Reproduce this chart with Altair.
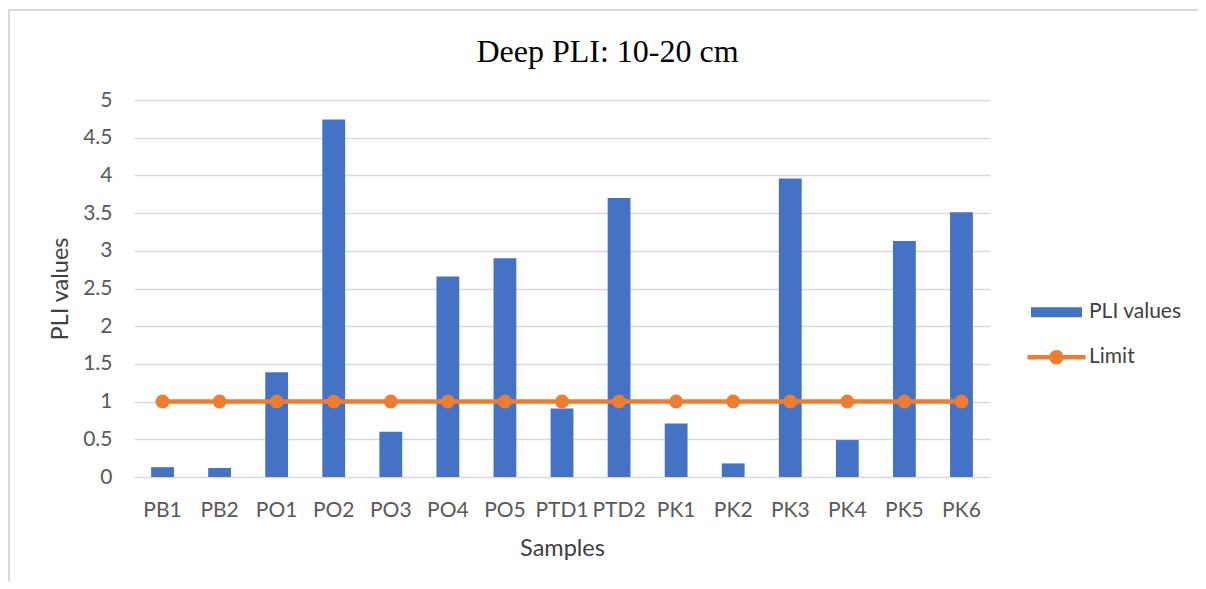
import altair as alt
import pandas as pd

# ---- data ----
samples = ["PB1", "PB2", "PO1", "PO2", "PO3", "PO4", "PO5", "PTD1", "PTD2",
           "PK1", "PK2", "PK3", "PK4", "PK5", "PK6"]
pli_values = [0.13, 0.12, 1.39, 4.74, 0.60, 2.66, 2.90, 0.91, 3.70,
              0.71, 0.18, 3.96, 0.49, 3.13, 3.51]
limit_values = [1, 1, 1, 1, 1, 1, 1, 1, 1, 1, 1, 1, 1, 1, 1]
series_names = ["PLI values", "Limit"]
y_ticks = [0, 0.5, 1, 1.5, 2, 2.5, 3, 3.5, 4, 4.5, 5]

df = pd.DataFrame({"Sample": samples, "PLI": pli_values, "Limit": limit_values})
legend_df = pd.DataFrame({"Series": series_names})
one_row = pd.DataFrame({"k": [0]})

BLUE = "#4472C4"
ORANGE = "#ED7D31"
GRID = "#D9D9D9"
LABEL = "#595959"
TITLE = "#404040"
FONT = "Lato"
LBL_SIZE = 21
TTL_SIZE = 23.5

bar_shape = "M-2.55,-0.5H2.55V0.5H-2.55Z"
line_shape = ("M-2.9,-0.22H2.9V0.22H-2.9Z "
              "M0.72,0A0.72,0.72,0,1,1,-0.72,0A0.72,0.72,0,1,1,0.72,0Z")

x_axis = alt.Axis(title="Samples", labelAngle=0, labelFont=FONT, labelFontSize=LBL_SIZE,
                  labelColor=LABEL, labelPadding=22.5, ticks=False, tickSize=0,
                  domain=False, grid=False, labelOverlap=False,
                  titleFont=FONT, titleFontSize=TTL_SIZE, titleFontWeight="normal",
                  titleColor=TITLE, titleY=78, titleBaseline="alphabetic")
x_enc = alt.X("Sample:N", sort=samples,
              scale=alt.Scale(paddingInner=0.6, paddingOuter=0.3), axis=x_axis)

y_scale = alt.Scale(domain=[0, 5], nice=False)
y_axis = alt.Axis(title="PLI values", values=y_ticks, format="~g",
                  labelFont=FONT, labelFontSize=LBL_SIZE, labelColor=LABEL,
                  labelPadding=22, ticks=False, tickSize=0, domain=False,
                  grid=True, gridColor=GRID, gridWidth=1.4, labelFlush=False,
                  labelOverlap=False,
                  titleFont=FONT, titleFontSize=TTL_SIZE, titleFontWeight="normal",
                  titleColor=TITLE, titleX=-67, titleBaseline="alphabetic")

bars = alt.Chart(df).mark_bar(color=BLUE).encode(
    x=x_enc, y=alt.Y("PLI:Q", scale=y_scale, axis=y_axis))

line = alt.Chart(df).mark_line(color=ORANGE, strokeWidth=4.5).encode(
    x=x_enc, y=alt.Y("Limit:Q", scale=y_scale, axis=y_axis))

dots = alt.Chart(df).mark_circle(color=ORANGE, size=196, opacity=1).encode(
    x=x_enc, y=alt.Y("Limit:Q", scale=y_scale, axis=y_axis))

leg = alt.Legend(title=None, orient="none", legendX=912, legendY=201.8,
                 symbolSize=400, symbolStrokeWidth=0, symbolOpacity=1,
                 labelOffset=22, rowPadding=23, padding=0,
                 labelFont=FONT, labelFontSize=LBL_SIZE, labelColor=TITLE)

legend_layer = alt.Chart(legend_df).transform_filter("false").mark_point(
    filled=True, opacity=1).encode(
    color=alt.Color("Series:N", scale=alt.Scale(domain=series_names, range=[BLUE, ORANGE]),
                    legend=leg),
    shape=alt.Shape("Series:N", scale=alt.Scale(domain=series_names, range=[bar_shape, line_shape]),
                    legend=leg))

frame_top = alt.Chart(one_row).mark_rule(color=GRID, strokeWidth=2).encode(
    x=alt.value(-126), x2=alt.value(1064), y=alt.value(-90))
frame_left = alt.Chart(one_row).mark_rule(color=GRID, strokeWidth=2).encode(
    x=alt.value(-125), y=alt.value(-91), y2=alt.value(490))

chart = alt.layer(frame_top, frame_left, bars, line, dots, legend_layer).properties(
    width=856, height=377,
    title=alt.TitleParams("Deep PLI: 10-20 cm", font="Liberation Serif", fontSize=32,
                          fontWeight="normal", color="#000000", anchor="middle",
                          frame="group", baseline="alphabetic", offset=0,
                          dx=45.5, dy=85.7),
    autosize=alt.AutoSizeParams(type="none"),
    padding={"left": 126, "top": 92, "right": 208, "bottom": 104},
    background="white",
).configure_view(stroke="transparent")

chart.save("out.html", embed_options={"renderer": "svg", "actions": False})
